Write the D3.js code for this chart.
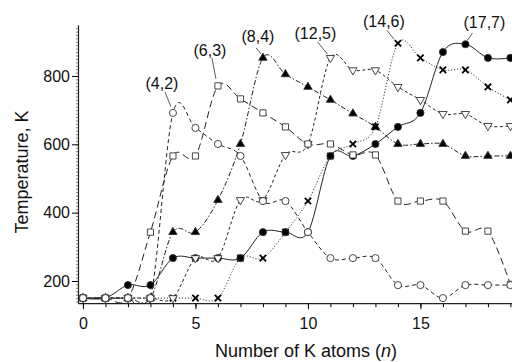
<!DOCTYPE html>
<html>
<head>
<meta charset="utf-8">
<script src="https://cdn.jsdelivr.net/npm/d3@7"></script>
<style>
  body { margin: 0; background: #fff; }
  svg { display: block; font-family: "Liberation Sans", Arial, sans-serif; }
</style>
</head>
<body>
<div id="chart"></div>
<script>
// number of K atoms
const atoms = d3.range(0, 20);

// temperature (K) for each cluster series, n = 0..19
const s42 = [150, 150, 150, 150, 692, 648, 601, 566, 434, 434, 343, 267, 267, 267, 188, 188, 150, 188, 188, 188];
const s63 = [150, 150, 150, 343, 566, 566, 771, 733, 692, 651, 601, 601, 569, 569, 434, 434, 434, 346, 346, 190];
const s84 = [150, 150, 150, 150, 343, 343, 437, 601, 853, 805, 768, 730, 690, 651, 601, 601, 601, 566, 566, 566];
const s125 = [150, 150, 150, 150, 150, 267, 267, 437, 437, 569, 601, 853, 817, 817, 768, 730, 689, 689, 654, 654];
const s146 = [150, 150, 150, 150, 150, 150, 150, 267, 267, 343, 434, 566, 601, 651, 896, 853, 818, 818, 768, 730];
const s177 = [150, 150, 188, 188, 267, 267, 267, 267, 343, 343, 343, 566, 566, 601, 651, 692, 870, 893, 853, 853];

const yTicks = [200, 400, 600, 800];
const xTicks = [0, 5, 10, 15];

// labels point at the marker with index `at`
const series = [
  { label: "(8,4)",  values: s84,  at: 8,  symbol: "triUp",  fill: "#000", dash: "5,2,1.5,2" },
  { label: "(14,6)", values: s146, at: 14, symbol: "times",  fill: "none", dash: "1,2" },
  { label: "(17,7)", values: s177, at: 17, symbol: "circle", fill: "#000", dash: null },
  { label: "(12,5)", values: s125, at: 11, symbol: "triDown", fill: "#fff", dash: "3,2.5" },
  { label: "(6,3)",  values: s63,  at: 6,  symbol: "square", fill: "#fff", dash: "7,4" },
  { label: "(4,2)",  values: s42,  at: 4,  symbol: "circle", fill: "#fff", dash: "4,3" }
];

// label text offset from marker, and pointer line ends
const labelPos = {
  "(4,2)":  { dx: -11, dy: -24, p1: [-2, -6], p2: [-8, -21] },
  "(6,3)":  { dx: -8,  dy: -30, p1: [-2, -7], p2: [-6, -28] },
  "(8,4)":  { dx: -5,  dy: -16, p1: [-2, -4], p2: [-7, -10] },
  "(12,5)": { dx: -15, dy: -19, p1: [-3, -4], p2: [-13, -16] },
  "(14,6)": { dx: -14, dy: -16, p1: [-4, -4], p2: [-11, -13] },
  "(17,7)": { dx: 19,  dy: -16, p1: [2, -4],  p2: [7, -11] }
};

const width = 512, height = 362;

const x = d3.scaleLinear().domain([-0.22, 19.07]).range([78, 512]);
const y = d3.scaleLinear().domain([135, 950]).range([303.2, 24.75]);

const svg = d3.select("#chart").append("svg")
  .attr("width", width)
  .attr("height", height)
  .attr("viewBox", `0 0 ${width} ${height}`);

svg.append("clipPath").attr("id", "plot")
  .append("rect")
  .attr("x", x.range()[0]).attr("y", y.range()[1])
  .attr("width", x.range()[1] - x.range()[0])
  .attr("height", y.range()[0] - y.range()[1]);

// axes
const yMinor = svg.append("g")
  .attr("transform", `translate(${x.range()[0]},0)`)
  .call(d3.axisLeft(y).tickValues(d3.range(140, 950, 10)).tickSize(2).tickSizeOuter(0).tickFormat(""));
yMinor.select(".domain").remove();
yMinor.selectAll("line").attr("stroke", "#333").attr("stroke-width", 0.6);

const yAxis = svg.append("g")
  .attr("transform", `translate(${x.range()[0]},0)`)
  .call(d3.axisLeft(y).tickValues(yTicks).tickSize(6).tickSizeOuter(0).tickPadding(2));

const xMinor = svg.append("g")
  .attr("transform", `translate(0,${y.range()[0]})`)
  .call(d3.axisBottom(x).tickValues(atoms).tickSize(4).tickSizeOuter(0).tickFormat(""));
xMinor.select(".domain").remove();

const xAxis = svg.append("g")
  .attr("transform", `translate(0,${y.range()[0]})`)
  .call(d3.axisBottom(x).tickValues(xTicks).tickSize(6).tickSizeOuter(0).tickPadding(8));

svg.selectAll(".tick text").attr("font-size", 16).attr("fill", "#111")
  .attr("font-family", "Liberation Sans, Arial, sans-serif");
svg.selectAll(".domain").attr("stroke", "#222").attr("stroke-width", 1.2);

// axis titles
svg.append("text")
  .attr("transform", "translate(28,172) rotate(-90)")
  .attr("text-anchor", "middle")
  .attr("font-size", 18)
  .attr("fill", "#111")
  .text("Temperature, K");

const xt = svg.append("text")
  .attr("x", 306)
  .attr("y", 357)
  .attr("text-anchor", "middle")
  .attr("font-size", 18)
  .attr("fill", "#111");
xt.append("tspan").text("Number of K atoms (");
xt.append("tspan").attr("font-style", "italic").text("n");
xt.append("tspan").text(")");

// lines
const line = d3.line()
  .x((d, i) => x(atoms[i]))
  .y(d => y(d))
  .curve(d3.curveCatmullRom.alpha(0));

const symbolPath = {
  circle: d3.symbol(d3.symbolCircle, 40)(),
  square: d3.symbol(d3.symbolSquare, 38)(),
  triUp: d3.symbol(d3.symbolTriangle, 30)(),
  triDown: d3.symbol(d3.symbolTriangle, 30)(),
  times: d3.symbol(d3.symbolTimes, 28)()
};

series.forEach(s => {
  const g = svg.append("g");
  g.append("path")
    .attr("d", line(s.values))
    .attr("clip-path", "url(#plot)")
    .attr("fill", "none")
    .attr("stroke", "#222")
    .attr("stroke-width", 1)
    .attr("stroke-dasharray", s.dash);

  g.selectAll(".pt")
    .data(s.values)
    .enter()
    .append("path")
    .attr("class", "pt")
    .attr("transform", (d, i) => `translate(${x(atoms[i])},${y(d)})` + (s.symbol === "triDown" ? " rotate(180)" : ""))
    .attr("d", symbolPath[s.symbol])
    .attr("fill", s.fill)
    .attr("stroke", s.symbol === "times" ? "#000" : "#333")
    .attr("stroke-width", s.symbol === "times" ? 1.8 : 0.9);
});

// peak labels
series.forEach(s => {
  const px = x(atoms[s.at]), py = y(s.values[s.at]);
  const lp = labelPos[s.label];
  svg.append("line")
    .attr("x1", px + lp.p1[0]).attr("y1", py + lp.p1[1])
    .attr("x2", px + lp.p2[0]).attr("y2", py + lp.p2[1])
    .attr("stroke", "#333")
    .attr("stroke-width", 0.8);
  svg.append("text")
    .attr("x", px + lp.dx)
    .attr("y", py + lp.dy)
    .attr("text-anchor", "middle")
    .attr("font-size", 16)
    .attr("fill", "#111")
    .text(s.label);
});
</script>
</body>
</html>
